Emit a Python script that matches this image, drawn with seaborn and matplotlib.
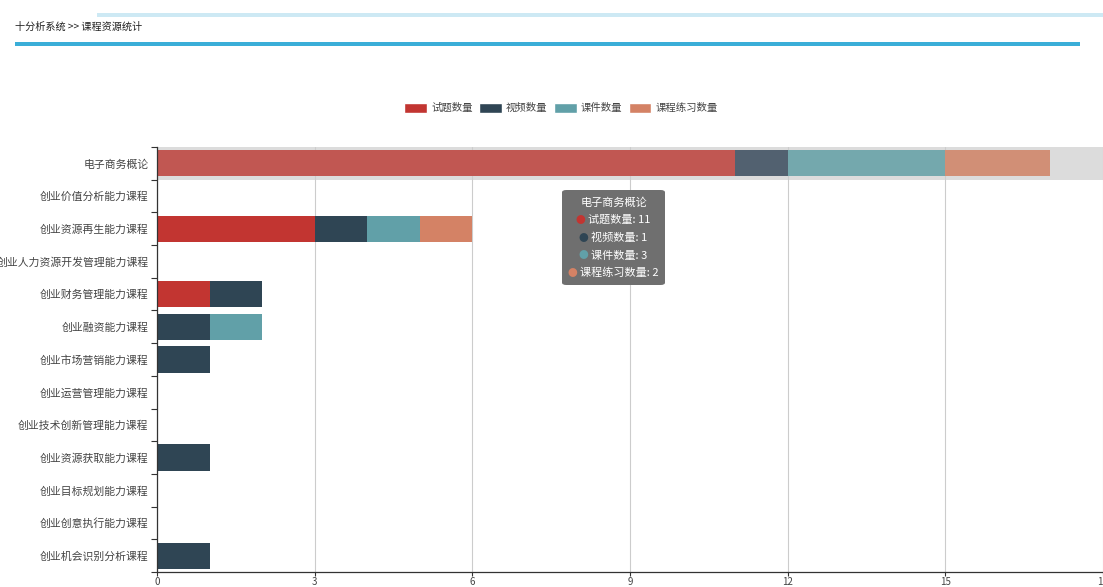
import numpy as np
import pandas as pd
import seaborn as sns
import matplotlib.pyplot as plt
from matplotlib.patches import Patch, FancyBboxPatch, Rectangle
from matplotlib.ticker import FixedLocator

# data
courses = ["电子商务概论", "创业价值分析能力课程", "创业资源再生能力课程", "创业人力资源开发管理能力课程",
           "创业财务管理能力课程", "创业融资能力课程", "创业市场营销能力课程", "创业运营管理能力课程",
           "创业技术创新管理能力课程", "创业资源获取能力课程", "创业目标规划能力课程",
           "创业创意执行能力课程", "创业机会识别分析课程"]
series = ["试题数量", "视频数量", "课件数量", "课程练习数量"]
questions = [11, 0, 3, 0, 1, 0, 0, 0, 0, 0, 0, 0, 0]
videos = [1, 0, 1, 0, 1, 1, 1, 0, 0, 1, 0, 0, 1]
slides = [3, 0, 1, 0, 0, 1, 0, 0, 0, 0, 0, 0, 0]
exercises = [2, 0, 1, 0, 0, 0, 0, 0, 0, 0, 0, 0, 0]
colors = ["#c23531", "#2f4554", "#61a0a8", "#d48265"]
hl_colors = ["#c15752", "#526170", "#74a8ad", "#d18f76"]
hl_index = 0

sns.set_theme(style="white")
plt.rcParams['font.family'] = ['Noto Sans CJK SC', 'DejaVu Sans']

df = pd.DataFrame({"course": courses, series[0]: questions, series[1]: videos,
                   series[2]: slides, series[3]: exercises})
cum = df[series].cumsum(axis=1)

W, H = 1103, 587
fig = plt.figure(figsize=(W / 100, H / 100), dpi=100)
ax = fig.add_axes([157 / W, 1 - 572 / H, (W - 157) / W, (572 - 147) / H])

# hover shadow band
ax.axhspan(hl_index - 0.5, hl_index + 0.5, color="#dcdcdc", zorder=0.5, lw=0)

# stacked bars: draw cumulative totals from the last series down
for i in range(len(series) - 1, -1, -1):
    sns.barplot(x=cum[series[i]], y=df["course"], color=colors[i], orient="h",
                width=0.8, linewidth=0, saturation=1, ax=ax, zorder=2)
    ax.containers[-1][hl_index].set_facecolor(hl_colors[i])

ax.set_xlim(0, 18)
ax.set_ylim(len(courses) - 0.5, -0.5)
ax.set_xlabel("")
ax.set_ylabel("")
ax.set_xticks(np.arange(0, 19, 3))
ax.xaxis.grid(True, color="#cccccc", lw=0.8)
ax.yaxis.grid(False)
ax.set_axisbelow(True)
for s in ["top", "right"]:
    ax.spines[s].set_visible(False)
for s in ["left", "bottom"]:
    ax.spines[s].set_color("#333333")
    ax.spines[s].set_linewidth(0.9)
ax.tick_params(axis="x", bottom=True, length=3, width=0.8, color="#333333",
               labelsize=7, labelcolor="#444444", pad=0.5)
ax.tick_params(axis="y", which="major", left=False, length=0, labelsize=7.8,
               labelcolor="#444444", pad=6)
ax.yaxis.set_minor_locator(FixedLocator(np.arange(-0.5, len(courses), 1)))
ax.tick_params(axis="y", which="minor", left=True, length=4, width=0.8, color="#333333")

# legend
handles = [Patch(facecolor=c, label=s) for c, s in zip(colors, series)]
fig.legend(handles=handles, loc="center", bbox_to_anchor=(561 / W, 1 - 108 / H), ncol=4,
           frameon=False, fontsize=7.5, handlelength=2.2, handleheight=1.1,
           handletextpad=0.4, columnspacing=0.6, labelcolor="#444444")

# page header
fig.patches.append(Rectangle((97 / W, 1 - 17 / H), (W - 97) / W, 4 / H,
                             transform=fig.transFigure, color="#cde9f4", lw=0))
fig.patches.append(Rectangle((15 / W, 1 - 46 / H), (1080 - 15) / W, 4 / H,
                             transform=fig.transFigure, color="#3aaed8", lw=0))
fig.text(15 / W, 1 - 27 / H, "十分析系统 >> 课程资源统计", fontsize=7.3, color="#222222",
         va="center", ha="left")

# tooltip
tx0, ty0, tx1, ty1 = 562, 190, 665, 285
fig.patches.append(FancyBboxPatch((tx0 / W, 1 - ty1 / H), (tx1 - tx0) / W, (ty1 - ty0) / H,
                                  boxstyle="round,pad=0,rounding_size=0.004",
                                  transform=fig.transFigure, color="#6f6f6f", lw=0, zorder=5))
cx = (tx0 + tx1) / 2 / W
fig.text(cx, 1 - 203 / H, courses[hl_index], fontsize=8, color="white", ha="center",
         va="center", zorder=6)
vals = [questions, videos, slides, exercises]
fig.canvas.draw()
renderer = fig.canvas.get_renderer()
for k, (s, v, c) in enumerate(zip(series, vals, colors)):
    y = 1 - (220 + k * 17.7) / H
    t = fig.text(cx + 6 / W, y, f"{s}: {v[hl_index]}", fontsize=8, color="white",
                 ha="center", va="center", zorder=6)
    bb = t.get_window_extent(renderer)
    fig.text((bb.x0 - 8) / W, y, "●", fontsize=7, color=c, ha="center", va="center",
             zorder=6)

fig.savefig("out.png", dpi=100)
